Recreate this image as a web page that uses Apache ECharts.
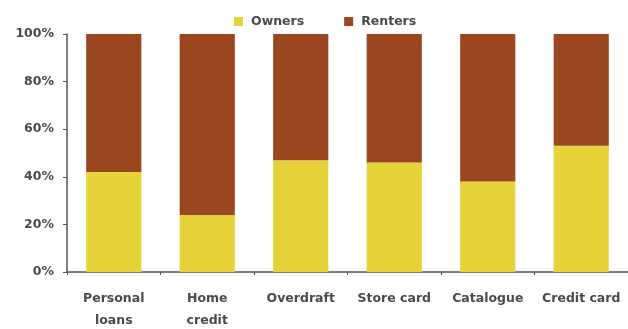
<!DOCTYPE html>
<html>
<head>
<meta charset="utf-8">
<script src="https://cdn.jsdelivr.net/npm/echarts@6/dist/echarts.min.js"></script>
<style>
  html, body { margin: 0; padding: 0; background: #fff; }
  #chart { width: 628px; height: 329px; }
</style>
</head>
<body>
<div id="chart"></div>
<script>
// Share of each credit product's users by housing tenure (%)
const categories = ['Personal\nloans', 'Home\ncredit', 'Overdraft', 'Store card', 'Catalogue', 'Credit card'];
const owners  = [42, 24, 47, 46, 38, 53];
const renters = [58, 76, 53, 54, 62, 47];
const yTicks = [0, 20, 40, 60, 80, 100];

const chart = echarts.init(document.getElementById('chart'));
const textStyle = {
  fontFamily: 'DejaVu Sans, sans-serif',
  fontWeight: 'bold',
  color: '#4a4a4a',
  fontSize: 12.5
};

chart.setOption({
  animation: false,
  legend: {
    top: 10,
    left: 229,
    itemWidth: 9,
    itemHeight: 9,
    itemGap: 40,
    icon: 'rect',
    textStyle: Object.assign({}, textStyle, { padding: [0, 0, 0, 3] }),
    data: ['Owners', 'Renters']
  },
  grid: { left: 67, right: 0, top: 34, bottom: 57, outerBoundsMode: 'none', containLabel: false },
  xAxis: {
    type: 'category',
    data: categories,
    axisLine: { lineStyle: { color: '#555', width: 1.5 } },
    axisTick: { show: true, length: 3, lineStyle: { color: '#555' } },
    axisLabel: Object.assign({}, textStyle, { margin: 16, lineHeight: 22, interval: 0 })
  },
  yAxis: {
    type: 'value',
    min: yTicks[0],
    max: yTicks[yTicks.length - 1],
    interval: 20,
    axisLine: { show: true, lineStyle: { color: '#555', width: 1.5 } },
    axisTick: { show: true, length: 4, lineStyle: { color: '#555' } },
    splitLine: { show: false },
    axisLabel: Object.assign({}, textStyle, { margin: 13, formatter: v => v + '%' })
  },
  series: [
    {
      name: 'Owners',
      type: 'bar',
      stack: 'tenure',
      barWidth: '59%',
      itemStyle: { color: '#E6D33A' },
      data: owners
    },
    {
      name: 'Renters',
      type: 'bar',
      stack: 'tenure',
      barWidth: '59%',
      itemStyle: { color: '#9A4620' },
      data: renters
    }
  ]
});
</script>
</body>
</html>
